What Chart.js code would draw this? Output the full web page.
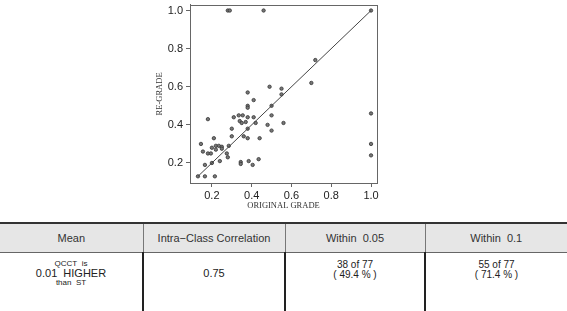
<!DOCTYPE html>
<html>
<head>
<meta charset="utf-8">
<script src="https://cdn.jsdelivr.net/npm/chart.js@4.4.1/dist/chart.umd.min.js"></script>
<style>
  html, body { margin: 0; padding: 0; background: #fff; }
  body { width: 567px; height: 311px; position: relative; overflow: hidden; font-family: "Liberation Sans", Arial, sans-serif; }
  #plot { position: absolute; left: 150px; top: 0; width: 235px; height: 212px; }
  table { position: absolute; left: 0; top: 222px; width: 567px; border-collapse: collapse; table-layout: fixed; color: #333; }
  th { background: #e6e6e6; font-weight: normal; font-size: 11px; height: 28px; padding: 0; border-top: 2px solid #333; border-bottom: 1px solid #666; }
  th + th { border-left: 1px solid #777; }
  td { vertical-align: top; text-align: center; height: 70px; padding: 6px 0 0 0; color: #222; }
  td + td { border-left: 2px solid #222; }
  .sm { font-size: 8px; line-height: 9px; }
  .md { font-size: 11px; line-height: 10px; }
  .big { font-size: 11px; line-height: 12px; margin-top: 8px; }
  .pair { font-size: 10px; line-height: 11px; margin-top: -0.5px; }
</style>
</head>
<body>
<div id="plot"><canvas id="c"></canvas></div>
<table>
  <colgroup><col style="width:143px"><col style="width:142px"><col style="width:140px"><col style="width:142px"></colgroup>
  <tr><th>Mean</th><th>Intra−Class Correlation</th><th>Within&nbsp;&nbsp;0.05</th><th>Within&nbsp;&nbsp;0.1</th></tr>
  <tr>
    <td><div class="sm">QCCT&nbsp;&nbsp;is</div><div class="md">0.01&nbsp;&nbsp;HIGHER</div><div class="sm">than&nbsp;&nbsp;ST</div></td>
    <td><div class="big">0.75</div></td>
    <td><div class="pair">38 of 77</div><div class="pair">( 49.4 % )</div></td>
    <td><div class="pair">55 of 77</div><div class="pair">( 71.4 % )</div></td>
  </tr>
</table>
<script>
// scatter values
const originalGrade = [0.28, 0.29, 0.46, 1.00, 0.72, 0.70, 0.49, 0.55, 0.38, 0.55,
  0.41, 0.38, 0.38, 0.50, 0.18, 0.31, 0.335, 0.355, 0.38, 0.41,
  0.50, 0.34, 0.35, 0.37, 0.42, 0.48, 0.56, 0.50, 0.30, 0.38,
  0.30, 0.36, 0.38, 0.44, 0.21, 0.145, 0.155, 0.18, 0.195, 0.20,
  0.22, 0.235, 0.25, 0.25, 0.22, 0.275, 0.28, 0.285, 0.24, 0.20,
  0.165, 0.13, 0.165, 0.215, 0.345, 0.345, 0.385, 0.405, 0.435, 1.00,
  1.00, 1.00];
const reGrade = [1.00, 1.00, 1.00, 1.00, 0.74, 0.62, 0.60, 0.59, 0.57, 0.56,
  0.53, 0.50, 0.49, 0.50, 0.43, 0.44, 0.45, 0.45, 0.44, 0.44,
  0.45, 0.42, 0.41, 0.415, 0.41, 0.40, 0.41, 0.37, 0.38, 0.38,
  0.34, 0.34, 0.33, 0.33, 0.33, 0.30, 0.26, 0.25, 0.25, 0.28,
  0.29, 0.29, 0.285, 0.275, 0.27, 0.25, 0.23, 0.29, 0.21, 0.20,
  0.19, 0.13, 0.13, 0.13, 0.205, 0.195, 0.21, 0.19, 0.22, 0.46,
  0.30, 0.24];
// identity line ends
const lineX = [0.13, 1.0];
const lineY = [0.13, 1.0];
const xTicks = [0.2, 0.4, 0.6, 0.8, 1.0];
const yTicks = [0.2, 0.4, 0.6, 0.8, 1.0];

const boxPlugin = {
  id: 'box',
  afterDraw(chart) {
    const a = chart.chartArea, ctx = chart.ctx;
    ctx.save();
    ctx.strokeStyle = '#666';
    ctx.lineWidth = 1;
    ctx.strokeRect(Math.round(a.left) + 0.5, Math.round(a.top) + 0.5, Math.round(a.right - a.left), Math.round(a.bottom - a.top));
    ctx.restore();
  }
};

function noPad(s) {
  s.paddingTop = 0; s.paddingBottom = 0; s.paddingLeft = 0; s.paddingRight = 0;
}

const tickFont = {family: '"Liberation Sans", Arial, sans-serif', size: 11};
const titleFont = {family: '"Liberation Serif", "Times New Roman", serif', size: 8.5};

new Chart(document.getElementById('c'), {
  type: 'scatter',
  data: {
    datasets: [
      {
        type: 'line',
        data: lineX.map((x, i) => ({x: x, y: lineY[i]})),
        borderColor: '#444',
        borderWidth: 1,
        pointRadius: 0,
        fill: false,
      },
      {
        data: originalGrade.map((x, i) => ({x: x, y: reGrade[i]})),
        pointRadius: 1.7,
        borderWidth: 0.8,
        borderColor: '#333',
        backgroundColor: '#777',
      },
    ]
  },
  options: {
    animation: false,
    responsive: true,
    maintainAspectRatio: false,
    layout: {padding: {top: 1, right: 8, left: 0, bottom: 0}},
    plugins: {legend: {display: false}, tooltip: {enabled: false}},
    scales: {
      x: {
        type: 'linear', min: 0.09, max: 1.03,
        afterBuildTicks: s => { s.ticks = xTicks.map(v => ({value: v})); },
        afterFit: s => { s.height = 29; noPad(s); },
        ticks: {font: tickFont, color: '#222', padding: 2, maxRotation: 0, callback: v => v.toFixed(1)},
        grid: {drawOnChartArea: false, tickLength: 4, tickColor: '#666'},
        border: {display: true, color: '#666'},
        title: {display: true, text: 'ORIGINAL GRADE', font: titleFont, color: '#333', padding: {top: 0, bottom: 1}},
      },
      y: {
        type: 'linear', min: 0.095, max: 1.03,
        afterBuildTicks: s => { s.ticks = yTicks.map(v => ({value: v})); },
        afterFit: s => { s.width = 40; noPad(s); },
        ticks: {font: tickFont, color: '#222', padding: 3, callback: v => v.toFixed(1)},
        grid: {drawOnChartArea: false, tickLength: 4, tickColor: '#666'},
        border: {display: true, color: '#666'},
        title: {display: true, text: 'RE-GRADE', font: titleFont, color: '#333', padding: {top: 5, bottom: 0}},
      }
    }
  },
  plugins: [boxPlugin]
});
</script>
</body>
</html>
